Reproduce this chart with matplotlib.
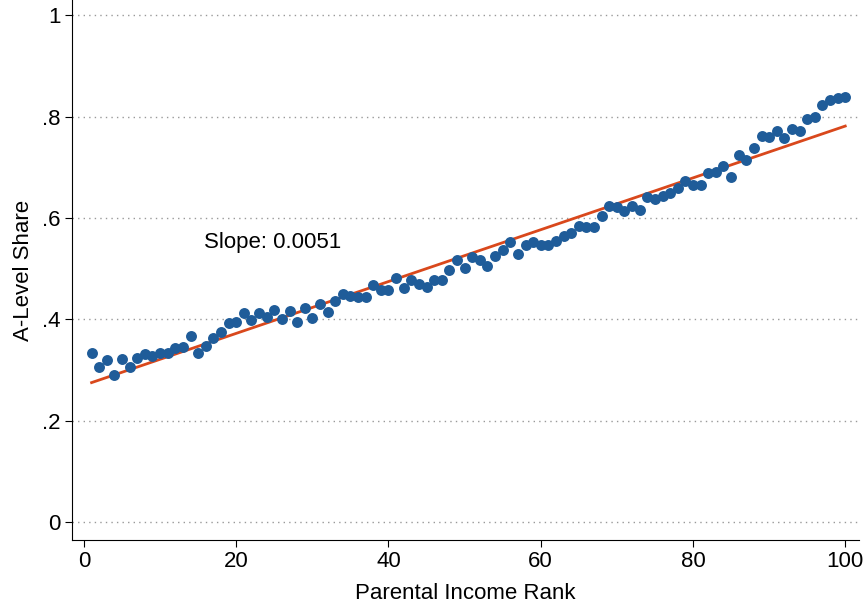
import numpy as np
import matplotlib

matplotlib.use("Agg")
import matplotlib.pyplot as plt

plt.rcParams["font.family"] = ["Liberation Sans", "DejaVu Sans"]

rank = np.arange(1, 101)
share = [
    .334, .307, .319, .291, .321, .307, .323, .331, .327, .333,
    .333, .343, .345, .368, .333, .347, .364, .376, .392, .394,
    .412, .398, .412, .404, .418, .400, .416, .394, .422, .402,
    .430, .414, .436, .450, .446, .444, .444, .467, .458, .458,
    .481, .462, .477, .469, .463, .477, .477, .497, .517, .501,
    .523, .517, .505, .525, .536, .552, .529, .546, .552, .546,
    .546, .554, .564, .570, .584, .582, .582, .604, .623, .621,
    .613, .623, .615, .641, .637, .643, .649, .659, .673, .665,
    .665, .688, .690, .702, .680, .724, .714, .738, .761, .759,
    .771, .757, .775, .771, .795, .799, .822, .832, .836, .838,
]
yticks = [0, .2, .4, .6, .8, 1]
ytick_labels = ["0", ".2", ".4", ".6", ".8", "1"]

BLUE = "#1f5c99"
ORANGE = "#d9481c"

fig = plt.figure(figsize=(8.65, 6.08), dpi=100)
ax = fig.add_axes([0.083, 0.112, 0.91, 0.888])

b, a = np.polyfit(rank, share, 1)
line_x = np.array([rank[0], rank[-1]])
ax.plot(line_x, a + b * line_x, color=ORANGE, lw=2, zorder=2)
ax.scatter(rank, share, s=62, color=BLUE, zorder=3, linewidths=0)
ax.text(15.8, .53, f"Slope: {b:.4f}", fontsize=16, va="bottom")

ax.set_xlim(-1.6, 101.8)
ax.set_ylim(-0.035, 1.03)
ax.set_yticks(yticks)
ax.set_yticklabels(ytick_labels)
ax.set_xticks([0, 20, 40, 60, 80, 100])
ax.yaxis.grid(True, linestyle=(0, (1, 3)), color="#999999", lw=1)
for s in ["top", "right"]:
    ax.spines[s].set_visible(False)
ax.tick_params(labelsize=16, direction="out", length=5, pad=3)
ax.set_xlabel("Parental Income Rank", fontsize=16, labelpad=8)
ax.set_ylabel("A-Level Share", fontsize=16, labelpad=6)

fig.savefig("out.png")
